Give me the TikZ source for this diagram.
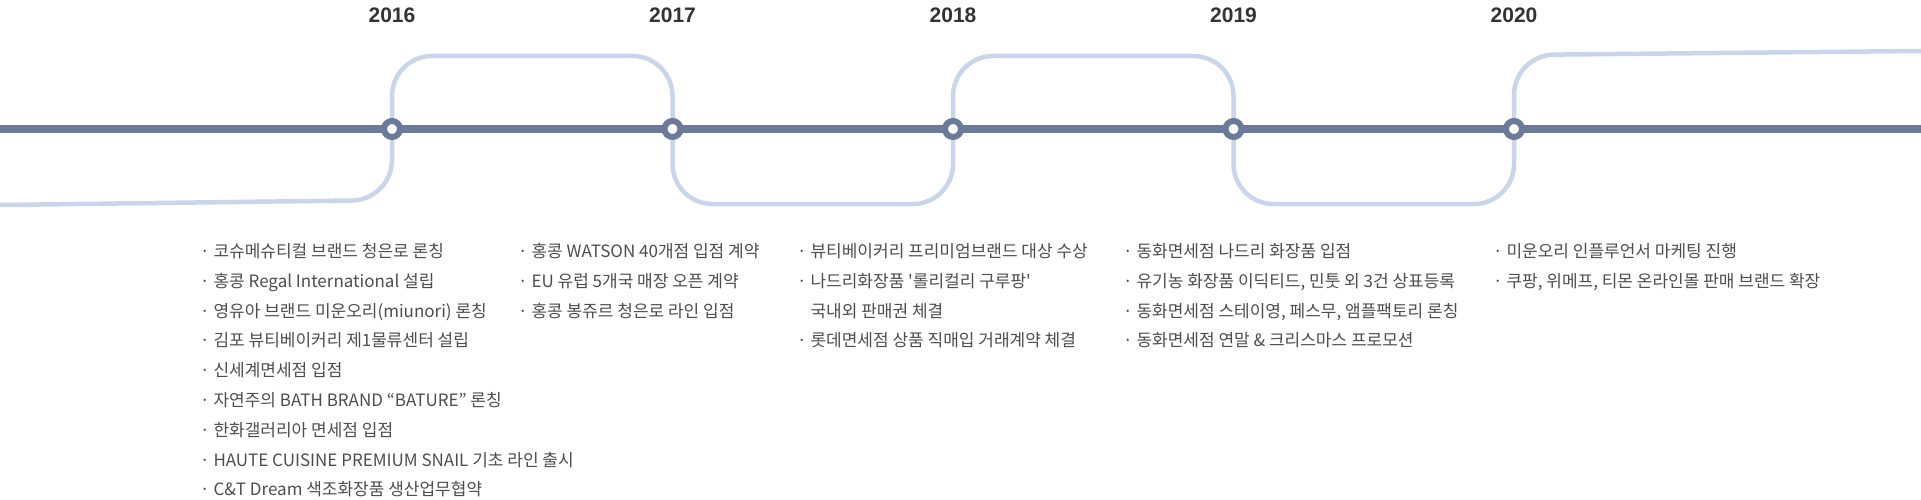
\documentclass[tikz,border=0pt]{standalone}
\usepackage{fontspec}
\newfontfamily\krfont{Noto Sans CJK KR}
\newfontfamily\yrfont{Liberation Sans}
\usetikzlibrary{positioning}
\definecolor{tlnavy}{HTML}{6B7A99}
\definecolor{tlpale}{HTML}{C8D5EA}
\definecolor{tlink}{HTML}{333333}
\definecolor{tltext}{HTML}{4D4D4D}
\tikzset{
  yr/.style={font=\yrfont\bfseries\fontsize{21}{21}\selectfont, text=tlink, inner sep=0pt},
  dot/.style={circle, draw=tlnavy, line width=6pt, fill=white, minimum size=16pt, inner sep=0pt},
  evts/.style={font=\krfont\fontsize{17}{29.8}\selectfont, text=tltext, align=left, inner sep=0pt, anchor=base west},
  mainln/.style={line width=7.5pt, color=tlnavy},
  pathln/.style={line width=4.5pt, color=tlpale, rounded corners=40pt},
}

\begin{document}
\begin{tikzpicture}[x=1pt, y=1pt]
  \useasboundingbox (0,0) rectangle (1921,-500);
  % rails
  \coordinate (hi) at (0,-56);
  \coordinate (lo) at (0,-204);
  \coordinate (tb) at (0,-200);
  \coordinate (tt) at (0,-55);
  \coordinate (yrs) at (0,-15);
  \coordinate (lnw) at (0,-129);
  \coordinate (lne) at (1921,-129);
  \coordinate (tw) at (0,-205);
  \coordinate (te) at (1921,-51);
  \foreach \yr/\x in {2016/392,2017/672.5,2018/953,2019/1233.5,2020/1514}
    \coordinate (p\yr) at (\x,-129);
  \draw[pathln] (tw) -- (p2016 |- tb) -- (p2016 |- hi) -- (p2017 |- hi) -- (p2017 |- lo)
    -- (p2018 |- lo) -- (p2018 |- hi) -- (p2019 |- hi) -- (p2019 |- lo)
    -- (p2020 |- lo) -- (p2020 |- tt) -- (te);
  \draw[mainln] (lnw) -- (lne);
  % stations
  \foreach \yr in {2016,2017,2018,2019,2020} {
    \node[dot] (d\yr) at (p\yr) {};
    \node[yr] (y\yr) at (p\yr |- yrs) {\yr};
  }
  % events (anchored on the last line)
  \node[evts] (e2016) at (200,-495.9) {· 코슈메슈티컬 브랜드 청은로 론칭\\
    · 홍콩 Regal International 설립\\
    · 영유아 브랜드 미운오리(miunori) 론칭\\
    · 김포 뷰티베이커리 제1물류센터 설립\\
    · 신세계면세점 입점\\
    · 자연주의 BATH BRAND “BATURE” 론칭\\
    · 한화갤러리아 면세점 입점\\
    · HAUTE CUISINE PREMIUM SNAIL 기초 라인 출시\\
    · C\&T Dream 색조화장품 생산업무협약};
  \node[evts] (e2017) at (518,-317.1) {· 홍콩 WATSON 40개점 입점 계약\\
    · EU 유럽 5개국 매장 오픈 계약\\
    · 홍콩 봉쥬르 청은로 라인 입점};
  \node[evts] (e2018) at (797,-346.9) {· 뷰티베이커리 프리미엄브랜드 대상 수상\\
    · 나드리화장품 '롤리컬리 구루팡'\\
    \hphantom{·} 국내외 판매권 체결\\
    · 롯데면세점 상품 직매입 거래계약 체결};
  \node[evts] (e2019) at (1123,-346.9) {· 동화면세점 나드리 화장품 입점\\
    · 유기농 화장품 이딕티드, 민툿 외 3건 상표등록\\
    · 동화면세점 스테이영, 페스무, 앰플팩토리 론칭\\
    · 동화면세점 연말 \& 크리스마스 프로모션};
  \node[evts] (e2020) at (1493,-287.3) {· 미운오리 인플루언서 마케팅 진행\\
    · 쿠팡, 위메프, 티몬 온라인몰 판매 브랜드 확장};
\end{tikzpicture}
\end{document}
